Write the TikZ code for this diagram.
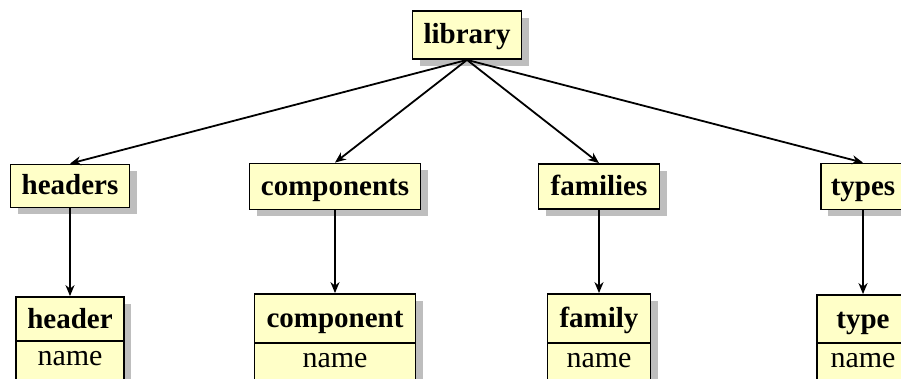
\documentclass[tikz,border=0pt]{standalone}
\usepackage{fontspec}
\setmainfont{Liberation Serif}
\usetikzlibrary{arrows.meta,shadows}
\definecolor{boxfill}{RGB}{255,255,200}
\definecolor{shadowgray}{RGB}{190,190,190}
\begin{document}
\begin{tikzpicture}[x=1pt,y=-1pt,
  box/.style={draw=black, line width=1.8pt, fill=boxfill, inner sep=0pt,
    text height=21pt, text depth=3pt,
    font=\fontsize{29}{34}\selectfont\bfseries, anchor=center,
    drop shadow={shadow xshift=7pt, shadow yshift=-7pt, fill=shadowgray, opacity=1}},
  namebox/.style={box, text height=8pt, text depth=8pt, font=\fontsize{30}{34}\selectfont},
  link/.style={line width=1.8pt, -{Stealth[length=11pt,width=9pt]}}]
\useasboundingbox (0,0) rectangle (901,379);
\clip (0,0) rectangle (901,379);
% top
\node[box, minimum width=109pt, minimum height=48pt] (library) at (467,35) {library};
% middle row
\node[box, minimum width=119pt, minimum height=43pt] (headers) at (70,186) {headers};
\node[box, minimum width=171pt, minimum height=46pt] (components) at (335,186.5) {components};
\node[box, minimum width=121pt, minimum height=45pt] (families) at (599,186.5) {families};
\node[box, minimum width=84pt, minimum height=46pt] (types) at (863,186.5) {types};
% bottom row
\node[box, minimum width=108pt, minimum height=44pt] (header) at (70,319) {header};
\node[namebox, minimum width=108pt, minimum height=48pt] (headername) at (70,365) {name};
\node[box, minimum width=161pt, minimum height=49pt] (component) at (335,318.5) {component};
\node[namebox, minimum width=161pt, minimum height=48pt] (componentname) at (335,367) {name};
\node[box, minimum width=103pt, minimum height=49pt] (family) at (599,318.5) {family};
\node[namebox, minimum width=103pt, minimum height=48pt] (familyname) at (599,367) {name};
\node[box, minimum width=92pt, minimum height=48pt] (type) at (863,319) {type};
\node[namebox, minimum width=92pt, minimum height=48pt] (typename) at (863,367) {name};
% connectors
\draw[link] (library.south) -- (headers.north);
\draw[link] (library.south) -- (components.north);
\draw[link] (library.south) -- (families.north);
\draw[link] (library.south) -- (types.north);
\draw[link] (headers.south) -- (header.north);
\draw[link] (components.south) -- (component.north);
\draw[link] (families.south) -- (family.north);
\draw[link] (types.south) -- (type.north);
\end{tikzpicture}
\end{document}
